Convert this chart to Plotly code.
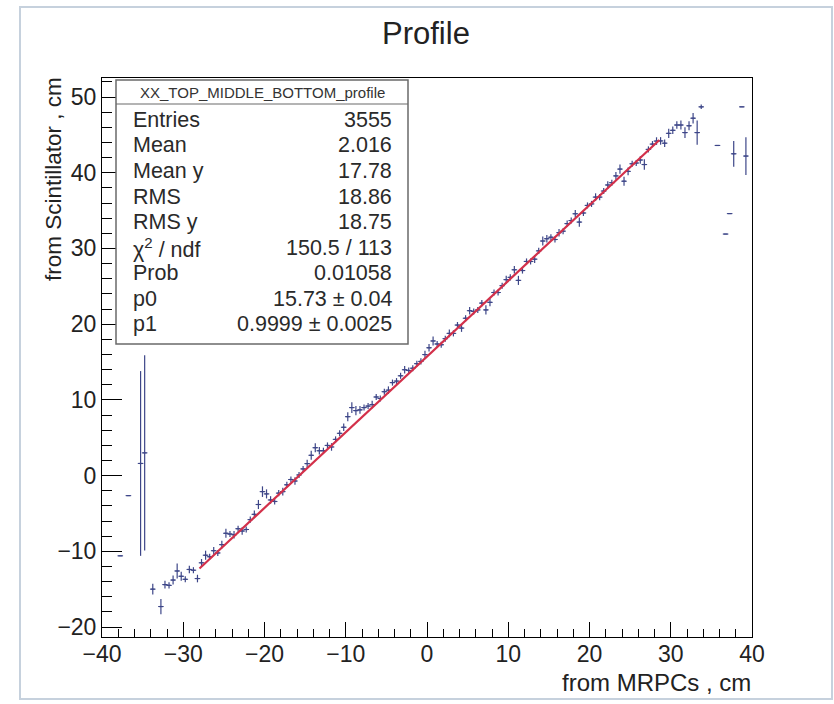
import plotly.graph_objects as go
import numpy as np

# ---------------- data ----------------
bin_x = [
    -37.75, -36.75, -35.25, -34.75, -33.75, -32.75, -32.25, -31.75, -31.25, -30.75,
    -30.25, -29.75, -29.25, -28.75, -28.25,
    -27.75, -27.25, -26.75, -26.25, -25.75, -25.25, -24.75, -24.25, -23.75, -23.25,
    -22.75, -22.25, -21.75, -21.25, -20.75, -20.25, -19.75, -19.25, -18.75, -18.25,
    -17.75, -17.25, -16.75, -16.25, -15.75, -15.25, -14.75, -14.25, -13.75, -13.25,
    -12.75, -12.25, -11.75, -11.25, -10.75, -10.25, -9.75, -9.25, -8.75, -8.25,
    -7.75, -7.25, -6.75, -6.25, -5.75, -5.25, -4.75, -4.25, -3.75, -3.25,
    -2.75, -2.25, -1.75, -1.25, -0.75, -0.25, 0.25, 0.75, 1.25, 1.75,
    2.25, 2.75, 3.25, 3.75, 4.25, 4.75, 5.25, 5.75, 6.25, 6.75,
    7.25, 7.75, 8.25, 8.75, 9.25, 9.75, 10.25, 10.75, 11.25, 11.75,
    12.25, 12.75, 13.25, 13.75, 14.25, 14.75, 15.25, 15.75, 16.25, 16.75,
    17.25, 17.75, 18.25, 18.75, 19.25, 19.75, 20.25, 20.75, 21.25, 21.75,
    22.25, 22.75, 23.25, 23.75, 24.25, 24.75, 25.25, 25.75, 26.25, 26.75,
    27.25, 27.75, 28.25,
    28.75, 29.25, 29.75, 30.25, 30.75, 31.25, 31.75, 32.25, 32.75, 33.25,
    33.75, 35.75, 36.75, 37.25, 37.75, 38.75, 39.25,
]
prof_y = [
    -10.6, -2.65, 1.6, 3.0, -15.0, -17.3, -14.4, -14.5, -13.8, -12.6,
    -13.3, -13.7, -12.4, -12.5, -13.6,
    -11.52, -10.52, -10.72, -9.92, -10.22, -9.12, -7.62, -7.72, -7.82, -7.02,
    -7.32, -7.12, -5.82, -5.12, -3.82, -2.12, -2.42, -3.22, -3.42, -2.32,
    -2.12, -1.22, -0.52, -0.72, 0.08, 0.88, 1.58, 2.68, 3.68, 3.28,
    3.28, 3.98, 3.78, 4.78, 5.58, 6.38, 7.78, 8.98, 8.58, 8.68,
    8.98, 9.18, 9.38, 10.38, 10.18, 11.08, 11.28, 12.28, 12.48, 13.18,
    13.98, 13.88, 14.18, 14.78, 15.08, 15.98, 16.88, 17.78, 17.38, 17.28,
    18.08, 18.78, 18.78, 19.88, 19.48, 20.78, 21.78, 21.68, 21.88, 22.78,
    21.88, 22.88, 24.18, 24.18, 25.08, 25.88, 26.18, 27.18, 25.78, 27.08,
    28.28, 28.28, 28.58, 29.68, 30.98, 31.28, 31.48, 31.18, 32.08, 32.28,
    33.28, 33.68, 34.58, 33.48, 34.68, 35.68, 35.88, 36.78, 36.78, 37.58,
    38.38, 38.68, 39.58, 40.48, 38.88, 40.18, 41.18, 41.28, 41.68, 41.08,
    43.08, 43.78, 44.18,
    44.2, 43.9, 45.2, 45.6, 46.3, 46.3, 45.3, 46.2, 47.2, 45.3,
    48.7, 43.6, 31.9, 34.6, 42.5, 48.7, 42.2,
]
prof_err = [
    0.0, 0.0, 12.2, 12.9, 0.7, 1.0, 0.5, 0.4, 0.6, 1.0,
    0.6, 0.4, 0.5, 0.4, 0.5,
    0.5, 0.6, 0.4, 0.5, 0.4, 0.5, 0.6, 0.4, 0.5, 0.4,
    0.5, 0.4, 0.4, 0.5, 0.6, 0.7, 0.6, 0.5, 0.4, 0.4,
    0.5, 0.4, 0.4, 0.5, 0.4, 0.4, 0.5, 0.6, 0.6, 0.5,
    0.4, 0.4, 0.5, 0.4, 0.4, 0.5, 0.6, 0.7, 0.6, 0.5,
    0.4, 0.4, 0.5, 0.4, 0.4, 0.4, 0.5, 0.4, 0.4, 0.4,
    0.5, 0.4, 0.4, 0.4, 0.4, 0.5, 0.5, 0.6, 0.4, 0.4,
    0.4, 0.5, 0.4, 0.4, 0.5, 0.4, 0.5, 0.4, 0.4, 0.4,
    0.6, 0.5, 0.4, 0.4, 0.4, 0.5, 0.4, 0.5, 0.6, 0.4,
    0.4, 0.4, 0.5, 0.4, 0.6, 0.5, 0.4, 0.4, 0.5, 0.4,
    0.4, 0.4, 0.5, 0.6, 0.4, 0.4, 0.4, 0.5, 0.4, 0.4,
    0.5, 0.4, 0.5, 0.6, 0.6, 0.5, 0.4, 0.4, 0.5, 0.7,
    0.4, 0.4, 0.5,
    0.5, 0.5, 0.6, 0.5, 0.5, 0.6, 0.7, 0.6, 0.7, 1.6,
    0.3, 0.0, 0.0, 0.0, 1.7, 0.0, 2.5,
]

p0 = 15.73
p1 = 0.9999
fit_range = [-28.0, 28.6]

chart_title = "Profile"
x_title = "from MRPCs , cm"
y_title = "from Scintillator , cm"
stats_name = "XX_TOP_MIDDLE_BOTTOM_profile"
stats_labels = ["Entries", "Mean", "Mean y", "RMS", "RMS y",
                "χ<sup>2</sup> / ndf", "Prob", "p0", "p1"]
stats_values = ["3555", "2.016", "17.78", "18.86", "18.75",
                "150.5 / 113", "0.01058", "15.73 ± 0.04", "0.9999 ± 0.0025"]

# ---------------- layout geometry ----------------
W, H = 834, 704
L, R, T, B = 102, 82, 78, 67
PW, PH = W - L - R, H - T - B


def px(x):
    return (x - L) / PW


def py(y):
    return (H - B - y) / PH


FONT = "Liberation Sans, Arial, Helvetica, sans-serif"
PT_COLOR = "#3d4688"

fig = go.Figure()

fig.add_trace(go.Scatter(
    x=bin_x, y=prof_y, mode="markers",
    marker=dict(symbol="line-ew-open", size=4, color=PT_COLOR,
                line=dict(color=PT_COLOR, width=1)),
    error_y=dict(type="data", array=prof_err, visible=True, width=0,
                 color=PT_COLOR, thickness=1.2),
    error_x=dict(type="constant", value=0.25, visible=True, width=0,
                 color=PT_COLOR, thickness=1.2),
    showlegend=False, hoverinfo="x+y",
))

fx = np.linspace(fit_range[0], fit_range[1], 50)
fig.add_trace(go.Scatter(
    x=fx, y=p0 + p1 * fx, mode="lines",
    line=dict(color="#d3304a", width=2.2),
    showlegend=False, hoverinfo="skip",
))

axis_common = dict(
    showgrid=False, zeroline=False, showline=True, linecolor="black",
    linewidth=1, mirror=True, ticks="inside", tickcolor="black",
    tickfont=dict(family=FONT, size=23, color="#222"),
)
fig.update_xaxes(range=[-40, 40], dtick=10, tick0=0, ticklen=15, tickwidth=1,
                 ticklabelstandoff=-4,
                 minor=dict(dtick=2, ticks="inside", ticklen=8,
                            tickcolor="black", tickwidth=1),
                 **axis_common)
fig.update_yaxes(range=[-21.32, 52.51], dtick=10, tick0=0, ticklen=20, tickwidth=1,
                 minor=dict(dtick=2, ticks="inside", ticklen=10,
                            tickcolor="black", tickwidth=1),
                 **axis_common)

shapes = [
    # outer window frame
    dict(type="rect", xref="paper", yref="paper",
         x0=px(20), x1=px(832), y0=py(699), y1=py(7),
         line=dict(color="#c6d1dd", width=2), fillcolor="rgba(0,0,0,0)",
         layer="below"),
    # stats box
    dict(type="rect", xref="paper", yref="paper",
         x0=px(116), x1=px(408), y0=py(344), y1=py(80),
         line=dict(color="#6a6a6a", width=1.5), fillcolor="white",
         layer="above"),
    dict(type="line", xref="paper", yref="paper",
         x0=px(116), x1=px(408), y0=py(104), y1=py(104),
         line=dict(color="#6a6a6a", width=1.2), layer="above"),
]

annotations = [
    dict(text=chart_title, xref="paper", yref="paper", x=px(426), y=py(33),
         xanchor="center", yanchor="middle", showarrow=False,
         font=dict(family=FONT, size=31, color="#222")),
    dict(text=x_title, xref="paper", yref="paper", x=px(753), y=py(682),
         xanchor="right", yanchor="middle", showarrow=False,
         font=dict(family=FONT, size=24, color="#222")),
    dict(text=y_title, xref="paper", yref="paper", x=px(53), y=py(75),
         xanchor="center", yanchor="top", showarrow=False, textangle=-90,
         font=dict(family=FONT, size=22.5, color="#222")),
    dict(text=stats_name, xref="paper", yref="paper", x=px(262), y=py(92),
         xanchor="center", yanchor="middle", showarrow=False,
         font=dict(family=FONT, size=15, color="#333")),
]
row0, step = 120, 25.5
for i, (lab, val) in enumerate(zip(stats_labels, stats_values)):
    yy = py(row0 + i * step)
    annotations.append(dict(text=lab, xref="paper", yref="paper", x=px(131), y=yy,
                            xanchor="left", yanchor="middle", showarrow=False,
                            font=dict(family=FONT, size=21.5, color="#2a2a2a")))
    annotations.append(dict(text=val, xref="paper", yref="paper", x=px(394), y=yy,
                            xanchor="right", yanchor="middle", showarrow=False,
                            font=dict(family=FONT, size=21.5, color="#2a2a2a")))

fig.update_layout(
    width=W, height=H,
    margin=dict(l=L, r=R, t=T, b=B, pad=0),
    paper_bgcolor="white", plot_bgcolor="white",
    shapes=shapes, annotations=annotations,
    font=dict(family=FONT),
)

fig.write_html("out.html")
